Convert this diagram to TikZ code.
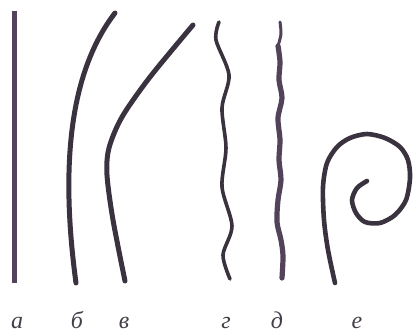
\documentclass[tikz,border=0pt]{standalone}
\usepackage{fontspec}
\setmainfont{Liberation Serif}
\usetikzlibrary{positioning}
\definecolor{fibre}{RGB}{58,50,62}
\definecolor{fibrepurple}{RGB}{82,66,90}
\tikzset{
  hair/.style={draw=fibre, line width=5pt, line cap=round, line join=round},
  lbl/.style={anchor=base, inner sep=0pt, font=\fontsize{24}{26}\selectfont\itshape, text=fibre!85!gray}
}
\begin{document}
\begin{tikzpicture}[x=1pt,y=-1pt]
  \useasboundingbox (0,0) rectangle (413,334);
  \draw[hair, draw=fibrepurple, line width=5pt, line cap=butt] (14,11) -- (14,283);
  \draw[hair] (115,13) .. controls (75,65) and (58,150) .. (76,283);
  \draw[hair] plot[smooth] coordinates {(193,25) (150,77) (122,117) (109,148) (107,175) (113,220) (125,281)};
  \draw[hair, line width=3.6pt] plot[smooth] coordinates {(219,22) (216,40) (229,75) (222,108) (226,148) (222,187) (232,226) (223,255) (230,279)};
  \draw[hair, draw=fibrepurple, line width=3pt] plot[smooth] coordinates {(280,22) (281,34) (278,46)};
  \draw[hair, draw=fibrepurple, line width=5.2pt] plot[smooth] coordinates {(278,46) (280,62) (279,80) (282,98) (278,118) (280,140) (279,160) (281,180) (278,200) (277,222) (281,240) (283,256) (282,278)};
  \draw[hair, line width=4.6pt] plot[smooth] coordinates {(335,283) (328,250) (324,220) (323,187) (327,163) (337,147) (350,138) (367,134) (385,138) (400,147) (408,160) (410,178) (406,200) (395,215) (380,223) (365,222) (356,213) (352,200) (357,188) (367,181)};
  \node[lbl] (a) at (17,328) {а};
  \node[lbl] (b) at (77,328) {б};
  \node[lbl] (v) at (124,328) {в};
  \node[lbl] (g) at (226,328) {г};
  \node[lbl] (d) at (277,328) {д};
  \node[lbl] (e) at (357,328) {е};
\end{tikzpicture}
\end{document}
